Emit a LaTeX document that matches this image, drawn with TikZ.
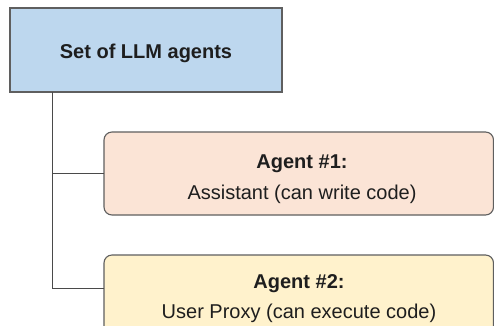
\documentclass[tikz,border=0pt]{standalone}
\usepackage{fontspec}
\setmainfont{Liberation Sans}
\begin{document}
\begin{tikzpicture}[x=1pt,y=-1pt,
  every node/.style={inner sep=0pt,outer sep=0pt},
  box/.style={draw=boxline,line width=1.1pt,rectangle},
  agentbox/.style={box,rounded corners=8pt,minimum width=389.5pt,minimum height=83pt},
  lbl/.style={anchor=base,text=ink,font=\fontsize{20}{24}\selectfont},
  hdr/.style={lbl,font=\fontsize{20}{24}\selectfont\bfseries},
  link/.style={draw=linecol,line width=1pt}]
\definecolor{boxline}{HTML}{5F5F5F}
\definecolor{linecol}{HTML}{4A4A4A}
\definecolor{ink}{HTML}{1E1E1E}
\definecolor{blueFill}{HTML}{BDD7EE}
\definecolor{peachFill}{HTML}{FBE4D6}
\definecolor{yellowFill}{HTML}{FFF2CC}
\useasboundingbox (0,0) rectangle (494,325);
\clip (0,0) rectangle (494,325);
\fill[white] (0,0) rectangle (494,325);

% root box
\node[box,fill=blueFill,minimum width=272pt,minimum height=84pt] (set) at (146,50) {};
\node[hdr] (settxt) at (146,58) {Set of LLM agents};

% agent boxes
\node[agentbox,fill=peachFill] (a1) at (298.75,173.5) {};
\node[hdr] (a1h) at (302,168.5) {Agent \#1:};
\node[lbl] (a1b) at (302,199) {Assistant (can write code)};

\node[agentbox,fill=yellowFill] (a2) at (298.75,296.5) {};
\node[hdr] (a2h) at (299,288) {Agent \#2:};
\node[lbl] (a2b) at (299,318) {User Proxy (can execute code)};

% tree connectors
\coordinate (trunk) at (52,0);
\draw[link] (set.south -| trunk) |- (a1.west |- 0,173);
\draw[link] (set.south -| trunk) |- (a2.west |- 0,288);
\end{tikzpicture}
\end{document}
